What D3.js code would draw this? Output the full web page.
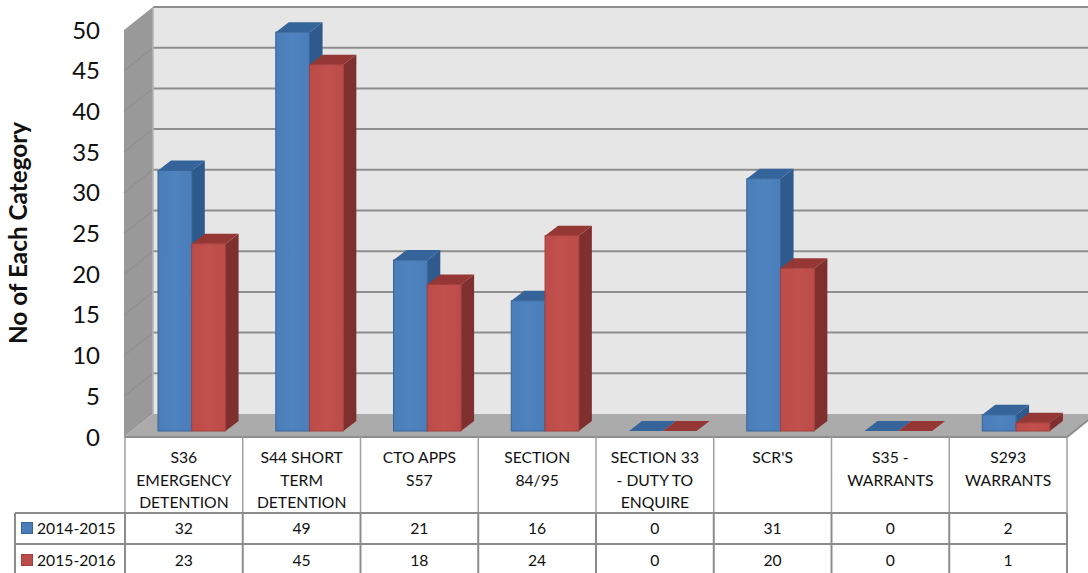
<!DOCTYPE html>
<html>
<head>
<meta charset="utf-8">
<script src="https://cdnjs.cloudflare.com/ajax/libs/d3/7.8.5/d3.min.js"></script>
<style>
html,body{margin:0;padding:0;background:#fff;overflow:hidden}
svg{display:block}
text{font-family:Lato,"Open Sans",sans-serif;fill:#111}
</style>
</head>
<body>
<svg id="chart" width="1088" height="573"></svg>
<script>
const categories = ["S36 EMERGENCY DETENTION","S44 SHORT TERM DETENTION","CTO APPS S57","SECTION 84/95","SECTION 33 - DUTY TO ENQUIRE","SCR'S","S35 - WARRANTS","S293 WARRANTS"];
const categoryLines = [["S36","EMERGENCY","DETENTION"],["S44 SHORT","TERM","DETENTION"],["CTO APPS","S57"],["SECTION","84/95"],["SECTION 33","- DUTY TO","ENQUIRE"],["SCR'S"],["S35 -","WARRANTS"],["S293","WARRANTS"]];
const seriesNames = ["2014-2015","2015-2016"];
const values2014 = [32,49,21,16,0,31,0,2];
const values2015 = [23,45,18,24,0,20,0,1];
const yTicks = [0,5,10,15,20,25,30,35,40,45,50];

const seriesStyles = [
  {front:"#4a7ebb",light:"#4f83c0",side:"#2f5a8e",top:"#35649b",edge:"#386497"},
  {front:"#bc4c49",light:"#c2504d",side:"#7f2f2d",top:"#953735",edge:"#a33f3c"}
];

const W = 1088, H = 573;
const svg = d3.select("#chart");
const defs = svg.append("defs");
seriesStyles.forEach((s,i)=>{
  const g = defs.append("linearGradient").attr("id","barFill"+i);
  g.append("stop").attr("offset","0").attr("stop-color",s.front);
  g.append("stop").attr("offset","0.5").attr("stop-color",s.light);
  g.append("stop").attr("offset","1").attr("stop-color",s.front);
});

// Plot plane scales: bars stand on the mid-depth plane of the floor.
const tableLeft = 125, colW = 117.75;
const x = d3.scaleBand().domain(categories).range([tableLeft, tableLeft + colW*categories.length]);
const y = d3.scaleLinear().domain([0,50]).range([431,24]);
const barW = 33.8, barInset = 33;
const barDx = 13, barDy = 10;          // bar depth projection
const wallBack = {dx:22, dy:-17};      // bar plane to back wall
const wallFront = {dx:-7, dy:6};       // bar plane to front edge
const leftX = 131;                     // left wall reference on the bar plane
const poly = p => p.map(a=>a.join(",")).join(" ");

const wall = svg.append("g");
const backX = leftX + wallBack.dx, frontX = leftX + wallFront.dx;
const yBack = v => y(v) + wallBack.dy, yFront = v => y(v) + wallFront.dy;

// Back wall
wall.append("rect").attr("x",backX).attr("y",yBack(50)).attr("width",W-backX).attr("height",yBack(0)-yBack(50)).attr("fill","#e6e6e6");
// Side wall
wall.append("polygon").attr("fill","#999999")
  .attr("points",poly([[frontX,yFront(50)],[backX,yBack(50)],[backX,yBack(0)],[frontX,yFront(0)]]));
// Floor
const tableRight = tableLeft + colW*categories.length;
wall.append("polygon").attr("fill","#ababab")
  .attr("points",poly([[backX,yBack(0)],[W+2,yBack(0)],[W+2,yFront(0)-(W+2-tableRight)*0.8],[tableRight,yFront(0)],[frontX,yFront(0)]]));
// Gridlines on the back wall and their continuation on the side wall
wall.selectAll("line.grid").data(yTicks.slice(1)).join("line").attr("class","grid")
  .attr("x1",backX).attr("x2",W).attr("y1",yBack).attr("y2",yBack)
  .attr("stroke","#8e8e8e").attr("stroke-width",2);
wall.selectAll("line.side").data(yTicks.slice(1,-1)).join("line").attr("class","side")
  .attr("x1",frontX).attr("x2",backX).attr("y1",yFront).attr("y2",yBack)
  .attr("stroke","#8f8f8f").attr("stroke-width",1.2);
wall.append("line").attr("x1",backX).attr("x2",backX).attr("y1",yBack(50)).attr("y2",yBack(0)).attr("stroke","#b5b5b5").attr("stroke-width",1.5);
wall.append("polyline").attr("fill","none").attr("stroke","#8e8e8e").attr("stroke-width",2)
  .attr("points",poly([[frontX,yFront(0)],[tableRight,yFront(0)],[W+2,yFront(0)-(W+2-tableRight)*0.8]]));

// Bars
[values2014,values2015].forEach((vals,si)=>{
  const s = seriesStyles[si];
  const g = svg.append("g");
  const bx = i => x(categories[i]) + barInset + si*barW;
  vals.forEach((v,i)=>{
    const l = bx(i), r = l+barW, t = y(v), b = y(0);
    if (v>0) g.append("polygon").attr("fill",s.side)
      .attr("points",poly([[r,t],[r+barDx,t-barDy],[r+barDx,b-barDy],[r,b]]));
    g.append("polygon").attr("fill",s.top)
      .attr("points",poly([[l,t],[l+barDx,t-barDy],[r+barDx,t-barDy],[r,t]]));
    if (v>0) g.append("rect").attr("x",l).attr("y",t).attr("width",barW).attr("height",b-t)
      .attr("fill",`url(#barFill${si})`).attr("stroke",s.edge).attr("stroke-width",1);
  });
});

// Value axis labels
const axisG = svg.append("g");
axisG.selectAll("text").data(yTicks).join("text")
  .attr("x",100).attr("y",v=>yFront(v)+8.5)
  .attr("text-anchor","end").attr("font-size",24).text(d=>d);
axisG.append("text").attr("transform","translate(27,233) rotate(-90)")
  .attr("text-anchor","middle").attr("font-size",24.3).attr("font-weight",700).text("No of Each Category");

// Data table
const table = svg.append("g");
const rowTop = yFront(0), row1 = 513, row2 = 544, legendLeft = 15;
const gridAttrs = sel => sel.attr("stroke","#8c8c8c").attr("stroke-width",2);
d3.range(categories.length+1).forEach(i=>{
  const lx = tableLeft + i*colW;
  table.append("line").attr("x1",lx).attr("x2",lx).attr("y1",rowTop).attr("y2",row1).attr("stroke","#a0a0a0").attr("stroke-width",1.5);
  table.append("line").attr("x1",lx).attr("x2",lx).attr("y1",row1).attr("y2",H).call(gridAttrs);
});
table.append("line").attr("x1",legendLeft).attr("x2",tableRight).attr("y1",row1).attr("y2",row1).call(gridAttrs);
table.append("line").attr("x1",legendLeft).attr("x2",tableRight).attr("y1",row2).attr("y2",row2).call(gridAttrs);
table.append("line").attr("x1",legendLeft).attr("x2",legendLeft).attr("y1",row1).attr("y2",H).call(gridAttrs);

categoryLines.forEach((lines,i)=>{
  const cx = x(categories[i]) + colW/2;
  table.selectAll(null).data(lines).join("text")
    .attr("x",cx).attr("y",(d,k)=>463+k*22.5)
    .attr("text-anchor","middle").attr("font-size",15.7).text(d=>d);
});
[values2014,values2015].forEach((vals,si)=>{
  const by = si===0 ? 534 : 566;
  table.selectAll(null).data(vals).join("text")
    .attr("x",(d,i)=>x(categories[i])+colW/2).attr("y",by)
    .attr("text-anchor","middle").attr("font-size",15.7).text(d=>d);
  const s = seriesStyles[si];
  table.append("rect").attr("x",21.5).attr("y",by-11.5).attr("width",11).attr("height",11)
    .attr("fill",s.front).attr("stroke",s.edge);
  table.append("text").attr("x",37).attr("y",by).attr("font-size",15.7).text(seriesNames[si]);
});
</script>
</body>
</html>
